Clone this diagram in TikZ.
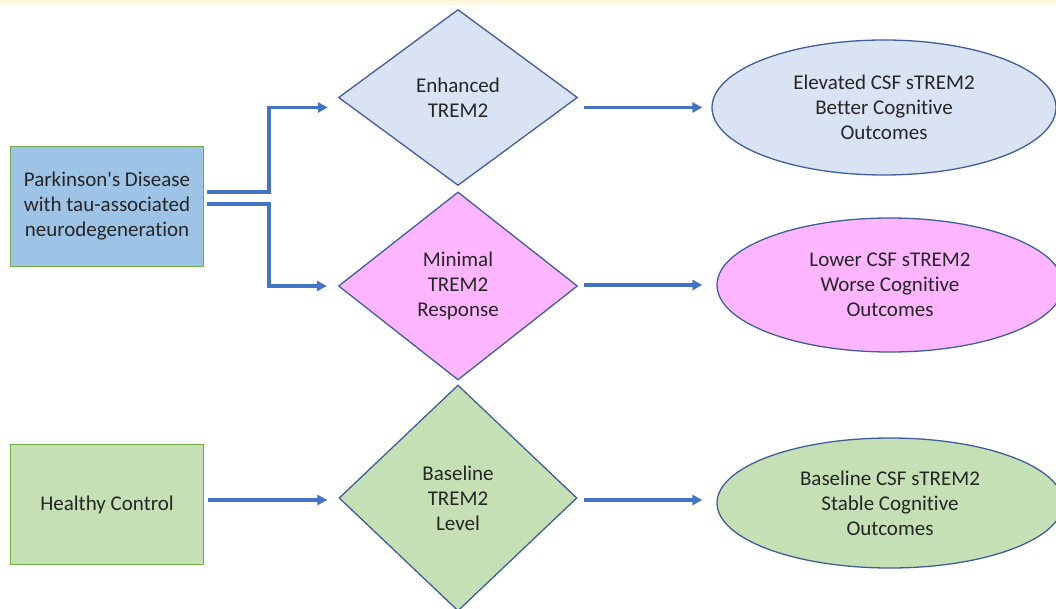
\documentclass[tikz,border=0pt]{standalone}
\usepackage{fontspec}
\setmainfont{Carlito}[Ligatures={NoCommon}]
\usetikzlibrary{shapes.geometric,arrows.meta,calc}
\definecolor{band}{HTML}{FEF7E1}
\definecolor{arrowblue}{HTML}{4472C4}
\definecolor{outl}{HTML}{3E5E9C}
\definecolor{boxgreen}{HTML}{70AD47}
\definecolor{pdblue}{HTML}{9DC3E6}
\definecolor{lightblue}{HTML}{DAE3F3}
\definecolor{pink}{HTML}{FFB5FF}
\definecolor{lightgreen}{HTML}{C5E0B4}
\definecolor{txt}{HTML}{262626}
\tikzset{
  lbl/.style={font=\fontsize{21}{25}\selectfont, text=txt, align=center},
  srcbox/.style={lbl, rectangle, draw=boxgreen, line width=1.5pt, minimum width=193pt, minimum height=120pt, inner sep=0pt},
  dec/.style={lbl, diamond, draw=outl, line width=1.3pt, inner sep=0pt, aspect=1},
  outc/.style={lbl, ellipse, draw=outl, line width=1.3pt, inner sep=0pt},
  arr/.style={draw=arrowblue, line width=3.3pt, -{Triangle[length=10pt,width=10pt]}}
}
\begin{document}
\begin{tikzpicture}[x=1pt,y=-1pt]
\useasboundingbox (0,0) rectangle (1056,608);
\fill[white] (0,0) rectangle (1056,608);
\fill[band] (0,0) rectangle (1056,5);

\node[srcbox, fill=pdblue] (pd) at (107,206.5) {Parkinson\textquotesingle s Disease\\with tau-associated\\neurodegeneration};
\node[srcbox, fill=lightgreen] (hc) at (107,504.5) {Healthy Control};

\node[dec, fill=lightblue, minimum width=239pt, minimum height=176pt] (d1) at (458,97.5) {Enhanced\\TREM2};
\node[dec, fill=pink, minimum width=239pt, minimum height=188pt] (d2) at (458,286) {Minimal\\TREM2\\Response};
\node[dec, fill=lightgreen, minimum width=238pt, minimum height=226pt] (d3) at (458,498) {Baseline\\TREM2\\Level};

\node[outc, fill=lightblue, minimum width=344pt, minimum height=135pt] (e1) at (884,107.5) {Elevated CSF sTREM2\\Better Cognitive\\Outcomes};
\node[outc, fill=pink, minimum width=346pt, minimum height=134pt] (e2) at (890,285) {Lower CSF sTREM2\\Worse Cognitive\\Outcomes};
\node[outc, fill=lightgreen, minimum width=346pt, minimum height=130pt] (e3) at (890,503) {Baseline CSF sTREM2\\Stable Cognitive\\Outcomes};

% connectors from Parkinson's box
\coordinate (s1) at ([xshift=3pt,yshift=14.5pt]pd.east);
\coordinate (s2) at ([xshift=3pt,yshift=2.5pt]pd.east);
\coordinate (t1) at ([xshift=-10pt,yshift=-10pt]d1.west);
\coordinate (t2) at ([xshift=-11pt]d2.west);
\coordinate (jx) at (269,0);
\draw[arr, line join=miter] (s1) -| (jx |- t1) -- (t1);
\draw[arr, line join=miter] (s2) -| (jx |- t2) -- (t2);

% healthy control to baseline
\draw[arr] ([xshift=4pt,yshift=4.5pt]hc.east) -- ([xshift=-11pt,yshift=-2pt]d3.west);

% decisions to outcomes
\draw[arr] ([xshift=6pt]d1.east |- e1.west) -- ([xshift=-9pt]e1.west);
\draw[arr] ([xshift=6pt]d2.east |- e2.west) -- ([xshift=-14pt]e2.west);
\draw[arr] ([xshift=6pt,yshift=-2pt]d3.east) -- ([xshift=-14pt,yshift=-2pt]e3.west |- d3.east);
\end{tikzpicture}
\end{document}
